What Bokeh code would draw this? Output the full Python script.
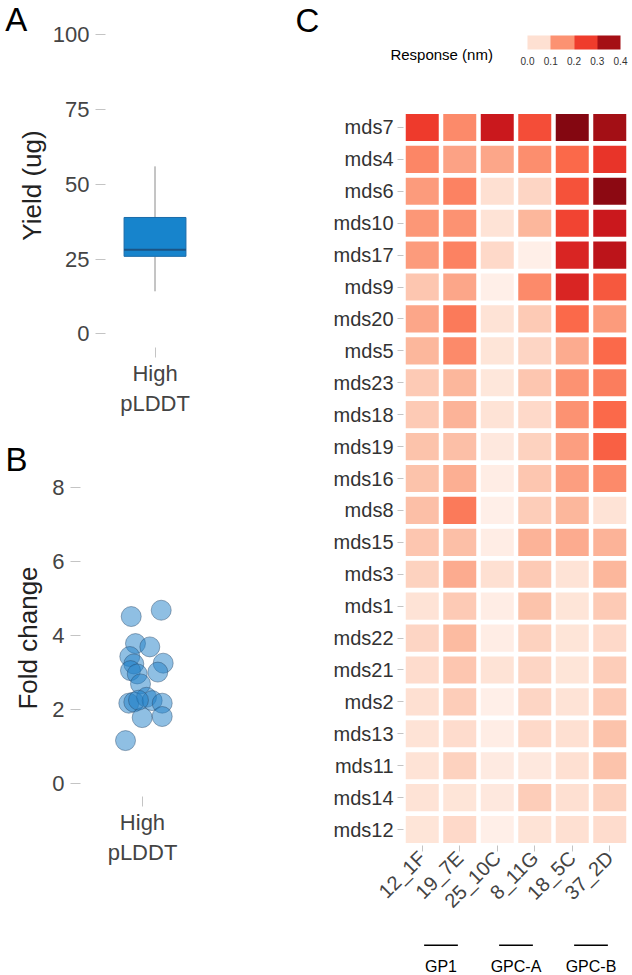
import math
from bokeh.plotting import figure
from bokeh.models import (Range1d, FactorRange, FixedTicker, LinearColorMapper, ColorBar,
                          Label, ColumnDataSource, PrintfTickFormatter)
from bokeh.layouts import row, column
from bokeh.palettes import Reds256
from bokeh.core.properties import value
from bokeh.embed import file_html
from bokeh.resources import INLINE

FONT = "Liberation Sans"

# ---------------- Panel A: yield box plot ----------------
yield_labels = ["High\npLDDT"]
yield_pos = [0]
yield_lower = [14.2]
yield_q1 = [25.9]
yield_median = [28.1]
yield_q3 = [38.9]
yield_upper = [56.0]
yield_ticks = [0, 25, 50, 75, 100]

# ---------------- Panel B: fold change points ----------------
fold_labels = ["High\npLDDT"]
fold_jitter = [-0.182, 0.302, -0.113, 0.118, -0.205, 0.334, -0.140, -0.194, -0.085, 0.247,
               -0.032, -0.221, -0.140, 0.065, 0.156, 0.318, -0.005, 0.318, -0.274, -0.065]
fold_values = [4.51, 4.68, 3.78, 3.69, 3.43, 3.25, 3.23, 3.05, 2.96, 3.01,
               2.69, 2.17, 2.20, 2.33, 2.24, 2.17, 1.78, 1.81, 1.16, 2.25]
fold_ticks = [0, 2, 4, 6, 8]

# ---------------- Panel C: heatmap ----------------
rows = ["mds7", "mds4", "mds6", "mds10", "mds17", "mds9", "mds20", "mds5", "mds23", "mds18",
        "mds19", "mds16", "mds8", "mds15", "mds3", "mds1", "mds22", "mds21", "mds2", "mds13",
        "mds11", "mds14", "mds12"]
cols = ["12_1F", "19_7E", "25_10C", "8_11G", "18_5C", "37_2D"]
resp_12_1F = [0.25, 0.165, 0.14, 0.145, 0.14, 0.085, 0.125, 0.105, 0.08, 0.08, 0.09, 0.09,
              0.095, 0.085, 0.07, 0.045, 0.065, 0.055, 0.05, 0.045, 0.045, 0.045, 0.04]
resp_19_7E = [0.16, 0.13, 0.17, 0.15, 0.17, 0.125, 0.18, 0.16, 0.105, 0.11, 0.095, 0.115,
              0.18, 0.095, 0.12, 0.08, 0.10, 0.085, 0.075, 0.055, 0.07, 0.04, 0.06]
resp_25_10C = [0.30, 0.125, 0.05, 0.045, 0.06, 0.015, 0.045, 0.04, 0.035, 0.045, 0.03, 0.02,
               0.015, 0.02, 0.05, 0.02, 0.02, 0.045, 0.015, 0.02, 0.025, 0.03, 0.015]
resp_8_11G = [0.23, 0.155, 0.065, 0.105, 0.015, 0.16, 0.08, 0.065, 0.085, 0.06, 0.07, 0.085,
              0.075, 0.11, 0.08, 0.09, 0.07, 0.065, 0.065, 0.06, 0.03, 0.075, 0.045]
resp_18_5C = [0.375, 0.20, 0.225, 0.24, 0.28, 0.28, 0.20, 0.12, 0.15, 0.15, 0.135, 0.135,
              0.105, 0.12, 0.045, 0.04, 0.04, 0.04, 0.045, 0.05, 0.05, 0.05, 0.05]
resp_37_2D = [0.35, 0.26, 0.37, 0.30, 0.32, 0.22, 0.14, 0.20, 0.175, 0.20, 0.21, 0.16,
              0.045, 0.11, 0.105, 0.08, 0.06, 0.075, 0.08, 0.09, 0.09, 0.07, 0.055]
resp_columns = [resp_12_1F, resp_19_7E, resp_25_10C, resp_8_11G, resp_18_5C, resp_37_2D]
groups = ["GP1", "GPC-A", "GPC-B"]
group_members = [["12_1F", "19_7E"], ["25_10C", "8_11G"], ["18_5C", "37_2D"]]
legend_ticks = [0.0, 0.1, 0.2, 0.3, 0.4]

TICK_GRAY = "#c4c4c4"
LABEL_GRAY = "#444444"


def style_axis(ax, size="22px", color=LABEL_GRAY):
    ax.axis_line_color = None
    ax.major_tick_line_color = TICK_GRAY
    ax.minor_tick_line_color = None
    ax.major_tick_in = 0
    ax.major_label_text_font = FONT
    ax.major_label_text_font_size = size
    ax.major_label_text_color = color
    ax.axis_label_text_font = FONT
    ax.axis_label_text_font_style = "normal"
    ax.axis_label_text_color = "#222222"


def side_label(p, side, text, x, y, size, align="left", baseline="middle"):
    p.add_layout(Label(x=x, y=y, x_units="data", y_units="data", text=text,
                       text_font=FONT, text_font_size=size, text_color="black",
                       text_align=align, text_baseline=baseline), side)


# ---------------- Figure A ----------------
pA = figure(width=288, height=440, x_range=Range1d(-0.8, 0.8), y_range=Range1d(-4.6, 103.8),
            output_backend="svg", toolbar_location=None,
            min_border_left=105, min_border_right=84, min_border_top=23, min_border_bottom=93)
pA.grid.visible = False
pA.outline_line_color = None
box_w = 1.0
pA.segment(x0=yield_pos, y0=yield_q3, x1=yield_pos, y1=yield_upper, line_color="#8a8a8a", line_width=1)
pA.segment(x0=yield_pos, y0=yield_lower, x1=yield_pos, y1=yield_q1, line_color="#8a8a8a", line_width=1)
pA.vbar(x=yield_pos, bottom=yield_q1, top=yield_q3, width=box_w, fill_color="#1784cc",
        line_color="#1a6aa8", line_width=1)
pA.segment(x0=[x - box_w / 2 for x in yield_pos], y0=yield_median,
           x1=[x + box_w / 2 for x in yield_pos], y1=yield_median, line_color="#1b5485", line_width=2)
style_axis(pA.yaxis[0])
pA.yaxis.ticker = FixedTicker(ticks=yield_ticks)
pA.yaxis.major_tick_out = 10
pA.yaxis.major_label_standoff = 6
pA.yaxis.axis_label = "Yield (ug)"
pA.yaxis.axis_label_text_font_size = "26px"
pA.yaxis.axis_label_standoff = 3
style_axis(pA.xaxis[0])
pA.xaxis.ticker = FixedTicker(ticks=yield_pos)
pA.xaxis.major_label_overrides = {p: l for p, l in zip(yield_pos, yield_labels)}
pA.xaxis.major_tick_out = 10
pA.xaxis.major_label_standoff = 3
side_label(pA, "right", "A", -2.42, 105.1, "33px")

# ---------------- Figure B ----------------
pB = figure(width=288, height=535, x_range=Range1d(-1.0, 0.597), y_range=Range1d(-0.35, 8.21),
            output_backend="svg", toolbar_location=None,
            min_border_left=105, min_border_right=84, min_border_top=39, min_border_bottom=179)
pB.margin = (0, 0, 0, -25)
pB.grid.visible = False
pB.outline_line_color = None
pB.scatter(x=fold_jitter, y=fold_values, size=20, fill_color="#1f80c8", fill_alpha=0.5,
           line_color="#2a4a6a", line_alpha=0.45, line_width=1)
style_axis(pB.yaxis[0])
pB.yaxis.ticker = FixedTicker(ticks=fold_ticks)
pB.yaxis.major_tick_out = 10
pB.yaxis.major_label_standoff = 6
pB.yaxis.axis_label = "Fold change"
pB.yaxis.axis_label_text_font_size = "26px"
pB.yaxis.axis_label_standoff = 6
style_axis(pB.xaxis[0])
pB.xaxis.ticker = FixedTicker(ticks=[0])
pB.xaxis.major_label_overrides = {0: fold_labels[0]}
pB.xaxis.major_tick_out = 10
pB.xaxis.major_label_standoff = 3
side_label(pB, "right", "B", -2.21, 8.76, "33px")

# ---------------- Figure C ----------------
pal = list(Reds256)
if pal[0].lower() == "#67000d":
    pal = pal[::-1]
mapper = LinearColorMapper(palette=pal, low=0.0, high=0.4)

xs, ys, vs = [], [], []
for c, vals in zip(cols, resp_columns):
    for r, v in zip(rows, vals):
        xs.append(c)
        ys.append(r)
        vs.append(v)
src = ColumnDataSource(dict(col=xs, row=ys, val=vs))

pC = figure(width=344, height=930, x_range=FactorRange(*cols), y_range=FactorRange(*rows[::-1]),
            output_backend="svg", toolbar_location=None,
            min_border_left=115, min_border_right=4, min_border_top=111, min_border_bottom=85)
pC.grid.visible = False
pC.outline_line_color = None
pC.rect(x="col", y="row", width=0.88, height=0.85, source=src,
        fill_color={"field": "val", "transform": mapper}, line_color=None)
style_axis(pC.yaxis[0], size="20px", color="#333333")
pC.yaxis.major_tick_out = 6
pC.yaxis.major_label_standoff = 4
style_axis(pC.xaxis[0], size="20px")
pC.xaxis.major_tick_out = 6
pC.xaxis.major_label_standoff = 3
pC.xaxis.major_label_orientation = math.pi / 4

# binned legend colours sampled from the same scale at bin midpoints
step = legend_ticks[1] - legend_ticks[0]
legend_colors = []
for t in legend_ticks[:-1]:
    mid = t + step / 2
    idx = int(round((mid - mapper.low) / (mapper.high - mapper.low) * (len(pal) - 1)))
    legend_colors.append(pal[idx])
legend_mapper = LinearColorMapper(palette=legend_colors, low=legend_ticks[0], high=legend_ticks[-1])
cb = ColorBar(color_mapper=legend_mapper, orientation="horizontal", width=93, height=14,
              ticker=FixedTicker(ticks=legend_ticks), formatter=PrintfTickFormatter(format="%.1f"),
              major_label_text_font=FONT, major_label_text_font_size="10px",
              major_label_text_color="#333333", major_tick_line_color=None, bar_line_color=None,
              padding=0, margin=0, background_fill_alpha=0, border_line_color=None,
              label_standoff=7, location=(124, 778))
pC.add_layout(cb, "center")
side_label(pC, "above", "C", -2.88, 25.85, "33px")
side_label(pC, "above", "Response (nm)", -0.35, 24.79, "15px")

# ---------------- group annotation strip under the heatmap ----------------
pG = figure(width=344, height=45, x_range=pC.x_range, y_range=Range1d(0, 1),
            output_backend="svg", toolbar_location=None, x_axis_location=None, y_axis_location=None,
            min_border_left=115, min_border_right=4, min_border_top=0, min_border_bottom=0)
pG.grid.visible = False
pG.outline_line_color = None
centres = [sum(cols.index(m) + 0.5 for m in members) / len(members) for members in group_members]
half = 0.45
pG.segment(x0=[c - half for c in centres], y0=[0.67] * len(centres),
           x1=[c + half for c in centres], y1=[0.67] * len(centres),
           line_color="black", line_width=1.5)
pG.text(x=centres, y=[0.2] * len(centres), text=groups, text_font=value(FONT),
        text_font_size=value("16px"), text_color="black", text_align="center",
        text_baseline="middle")

layout = row(column(pA, pB), column(pC, pG))
open("out.html", "w").write(file_html(layout, INLINE))
